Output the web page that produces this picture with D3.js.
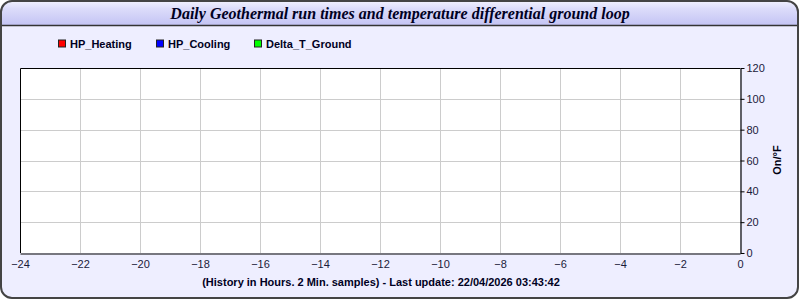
<!DOCTYPE html>
<html>
<head>
<meta charset="utf-8">
<script src="https://cdn.jsdelivr.net/npm/d3@7"></script>
<style>
  body { margin: 0; background: #fff; }
  svg { display: block; font-family: "Liberation Sans", Arial, sans-serif; }
</style>
</head>
<body>
<svg id="chart" width="800" height="300"></svg>
<script>
// series (no samples in the last 24h)
const seriesNames = ['HP_Heating', 'HP_Cooling', 'Delta_T_Ground'];
const seriesColors = ['#ff0000', '#0000ff', '#00ff00'];
const hpHeating = [];
const hpCooling = [];
const deltaTGround = [];
const xTicks = [-24, -22, -20, -18, -16, -14, -12, -10, -8, -6, -4, -2, 0];
const yTicks = [0, 20, 40, 60, 80, 100, 120];

const svg = d3.select('#chart');
const W = 800, H = 300;
const plot = { left: 20, top: 68, right: 740, bottom: 253 };

// frame + title bar
const defs = svg.append('defs');
const grad = defs.append('linearGradient').attr('id', 'tbar').attr('x1', 0).attr('y1', 0).attr('x2', 0).attr('y2', 1);
grad.append('stop').attr('offset', '0%').attr('stop-color', '#f4f4ff');
grad.append('stop').attr('offset', '35%').attr('stop-color', '#dcdcfa');
grad.append('stop').attr('offset', '100%').attr('stop-color', '#c4c4f4');
defs.append('clipPath').attr('id', 'frameclip')
  .append('rect').attr('x', 1).attr('y', 1).attr('width', W - 3).attr('height', H - 3).attr('rx', 11);

svg.append('rect')
  .attr('x', 1).attr('y', 1).attr('width', W - 3).attr('height', H - 3).attr('rx', 11)
  .attr('fill', '#eeeeff');
svg.append('rect')
  .attr('clip-path', 'url(#frameclip)')
  .attr('x', 0).attr('y', 0).attr('width', W).attr('height', 25)
  .attr('fill', 'url(#tbar)');
svg.append('line')
  .attr('x1', 1).attr('x2', W - 2).attr('y1', 25.5).attr('y2', 25.5)
  .attr('stroke', '#333').attr('stroke-width', 1.5);
svg.append('rect')
  .attr('x', 1).attr('y', 1).attr('width', W - 3).attr('height', H - 3).attr('rx', 11)
  .attr('fill', 'none').attr('stroke', '#444').attr('stroke-width', 2);

svg.append('text')
  .attr('x', 400).attr('y', 19)
  .attr('text-anchor', 'middle')
  .style('font-family', '"Liberation Serif", "Times New Roman", serif')
  .style('font-style', 'italic')
  .style('font-weight', 'bold')
  .style('font-size', '16px')
  .attr('fill', '#000022')
  .text('Daily Geothermal run times and temperature differential ground loop');

// legend
const legendX = [59, 157, 255];
const legend = svg.append('g');
seriesNames.forEach((name, i) => {
  legend.append('rect')
    .attr('x', legendX[i] - 0.5).attr('y', 40).attr('width', 7).attr('height', 7)
    .attr('fill', seriesColors[i]).attr('stroke', '#222').attr('stroke-width', 1);
  legend.append('text')
    .attr('x', legendX[i] + 11).attr('y', 48)
    .style('font-size', '11px').style('font-weight', 'bold')
    .attr('fill', '#000022')
    .text(name);
});

// scales
const x = d3.scaleLinear().domain([-24, 0]).range([plot.left, plot.right]);
const y = d3.scaleLinear().domain([0, 120]).range([plot.bottom, plot.top]);

svg.append('rect')
  .attr('x', plot.left).attr('y', plot.top)
  .attr('width', plot.right - plot.left).attr('height', plot.bottom - plot.top)
  .attr('fill', '#fff');

// grid
svg.append('g').selectAll('line').data(xTicks.slice(1, -1)).enter().append('line')
  .attr('x1', d => Math.round(x(d)) + 0.5).attr('x2', d => Math.round(x(d)) + 0.5)
  .attr('y1', plot.top).attr('y2', plot.bottom)
  .attr('stroke', '#cccccc');
svg.append('g').selectAll('line').data(yTicks.slice(1, -1)).enter().append('line')
  .attr('y1', d => Math.round(y(d)) + 0.5).attr('y2', d => Math.round(y(d)) + 0.5)
  .attr('x1', plot.left).attr('x2', plot.right)
  .attr('stroke', '#cccccc');

// series lines
const line = d3.line().x(d => x(d[0])).y(d => y(d[1]));
[hpHeating, hpCooling, deltaTGround].forEach((s, i) => {
  svg.append('path').datum(s)
    .attr('d', line).attr('fill', 'none')
    .attr('stroke', seriesColors[i]).attr('stroke-width', 1.5);
});

// plot border (left/top)
svg.append('path')
  .attr('d', `M${plot.left + 0.5},${plot.bottom}V${plot.top + 0.5}H${plot.right}`)
  .attr('fill', 'none').attr('stroke', '#000');

// x axis
const xAxis = svg.append('g')
  .attr('transform', `translate(0,${plot.bottom + 0.5})`)
  .call(d3.axisBottom(x).tickValues(xTicks).tickSize(0).tickPadding(7).tickFormat(d3.format('d')));
xAxis.select('.domain').attr('stroke', '#000').attr('stroke-width', 1.2);
xAxis.selectAll('text')
  .style('font-size', '11px').style('font-family', '"Liberation Sans", Arial, sans-serif')
  .attr('fill', '#1a1a3a');

// y axis (right)
const yAxis = svg.append('g')
  .attr('transform', `translate(${plot.right + 0.5},0)`)
  .call(d3.axisRight(y).tickValues(yTicks).tickSize(4).tickPadding(2).tickSizeOuter(0));
yAxis.select('.domain').attr('stroke', '#000').attr('stroke-width', 1.2);
yAxis.selectAll('line').attr('stroke', '#000');
yAxis.selectAll('text')
  .style('font-size', '11px').style('font-family', '"Liberation Sans", Arial, sans-serif')
  .attr('fill', '#1a1a3a');

svg.append('text')
  .attr('transform', 'translate(781,160) rotate(-90)')
  .attr('text-anchor', 'middle')
  .style('font-size', '11px').style('font-weight', 'bold')
  .attr('fill', '#000011')
  .text('On/°F');

svg.append('text')
  .attr('x', 381).attr('y', 286)
  .attr('text-anchor', 'middle')
  .style('font-size', '11px').style('font-weight', 'bold')
  .attr('fill', '#000022')
  .text('(History in Hours. 2 Min. samples) - Last update: 22/04/2026 03:43:42');
</script>
</body>
</html>
